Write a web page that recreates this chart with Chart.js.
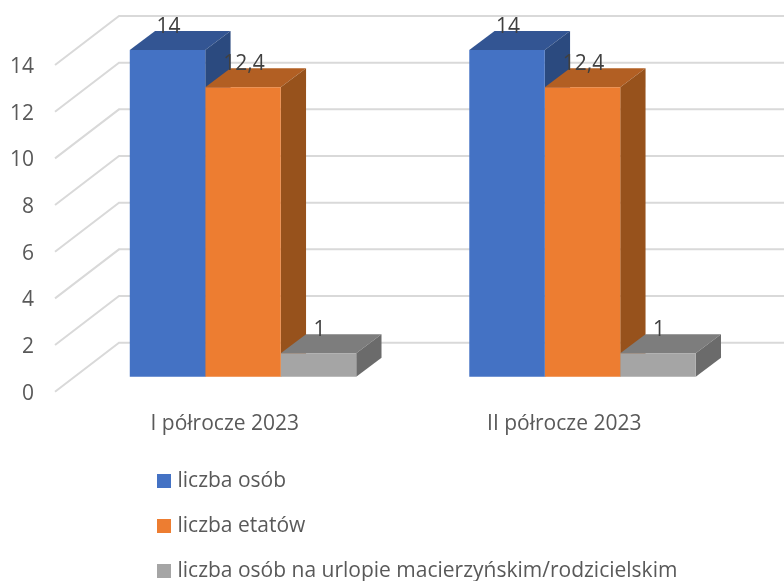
<!DOCTYPE html>
<html>
<head>
<meta charset="utf-8">
<script src="https://cdn.jsdelivr.net/npm/chart.js@4/dist/chart.umd.min.js"></script>
<style>
  html, body { margin: 0; padding: 0; background: #fff; }
  canvas { display: block; }
</style>
</head>
<body>
<canvas id="chart" width="784" height="581"></canvas>
<script>
const categories = ["I półrocze 2023", "II półrocze 2023"];
const seriesNames = ["liczba osób", "liczba etatów", "liczba osób na urlopie macierzyńskim/rodzicielskim"];
const liczbaOsob = [14, 14];
const liczbaEtatow = [12.4, 12.4];
const liczbaUrlop = [1, 1];

const frontColors = ["#4472C4", "#ED7D31", "#A5A5A5"];
const topColors = ["#335593", "#B25F23", "#7D7D7D"];
const sideColors = ["#2B4A7F", "#97521C", "#6B6B6B"];

const fontName = "'Open Sans', sans-serif";
const fontSize = 21;

// fake 3D: plot area is the front plane, bars sit a bit behind it
const wall = { dx: 64, dy: -49 };
const barShift = { dx: 18.25, dy: -15 };
const barDepth = { dx: 25.3, dy: -19 };

const fake3d = {
    id: "fake3d",
    afterLayout(chart) {
        // stacked legend under the plot, bottom goes past the canvas so it doesn't wrap
        const legend = chart.legend;
        legend.left = 137;
        legend.top = 446.5;
        legend.right = 784;
        legend.bottom = 660;
        legend.width = 647;
        legend.height = 213.5;
    },
    beforeDatasetsDraw(chart) {
        const ctx = chart.ctx;
        const y = chart.scales.y;

        ctx.save();
        ctx.strokeStyle = "#D9D9D9";
        ctx.lineWidth = 2;
        y.ticks.forEach((tick) => {
            const py = y.getPixelForValue(tick.value);
            ctx.beginPath();
            ctx.moveTo(chart.chartArea.left, py);
            ctx.lineTo(chart.chartArea.left + wall.dx, py + wall.dy);
            ctx.lineTo(chart.width, py + wall.dy);
            ctx.stroke();
        });
        ctx.restore();

        ctx.save();
        ctx.translate(barShift.dx, barShift.dy);
        chart.data.datasets.forEach((ds, i) => {
            chart.getDatasetMeta(i).data.forEach((bar) => {
                const left = bar.x - bar.width / 2;
                const right = bar.x + bar.width / 2;
                // top face
                ctx.fillStyle = topColors[i];
                ctx.beginPath();
                ctx.moveTo(left, bar.y);
                ctx.lineTo(right, bar.y);
                ctx.lineTo(right + barDepth.dx, bar.y + barDepth.dy);
                ctx.lineTo(left + barDepth.dx, bar.y + barDepth.dy);
                ctx.closePath();
                ctx.fill();
                // side face
                ctx.fillStyle = sideColors[i];
                ctx.beginPath();
                ctx.moveTo(right, bar.y);
                ctx.lineTo(right + barDepth.dx, bar.y + barDepth.dy);
                ctx.lineTo(right + barDepth.dx, bar.base + barDepth.dy);
                ctx.lineTo(right, bar.base);
                ctx.closePath();
                ctx.fill();
            });
        });
    },
    afterDatasetsDraw(chart) {
        const ctx = chart.ctx;
        ctx.fillStyle = "#404040";
        ctx.font = fontSize + "px " + fontName;
        ctx.textAlign = "center";
        ctx.textBaseline = "middle";
        chart.data.datasets.forEach((ds, i) => {
            chart.getDatasetMeta(i).data.forEach((bar, j) => {
                ctx.fillText(String(ds.data[j]).replace(".", ","), bar.x + 1, bar.y - 23);
            });
        });
        ctx.restore();
    }
};

new Chart(document.getElementById("chart"), {
    type: "bar",
    data: {
        labels: categories,
        datasets: [
            { label: seriesNames[0], data: liczbaOsob, backgroundColor: frontColors[0] },
            { label: seriesNames[1], data: liczbaEtatow, backgroundColor: frontColors[1] },
            { label: seriesNames[2], data: liczbaUrlop, backgroundColor: frontColors[2] }
        ]
    },
    plugins: [fake3d],
    options: {
        responsive: false,
        animation: false,
        clip: false,
        layout: { padding: { top: 65, right: 50, bottom: 0, left: 0 } },
        datasets: { bar: { barPercentage: 1, categoryPercentage: 0.667 } },
        scales: {
            x: {
                grid: { display: false },
                border: { display: false },
                ticks: { color: "#595959", font: { family: fontName, size: fontSize }, padding: 12, maxRotation: 0 },
                afterFit(scale) { scale.height = 189.3; }
            },
            y: {
                min: 0,
                max: 14,
                grid: { display: false, drawTicks: false },
                border: { display: false },
                ticks: { stepSize: 2, color: "#595959", font: { family: fontName, size: fontSize }, padding: 21, labelOffset: 2 },
                afterFit(scale) { scale.width = 55; }
            }
        },
        plugins: {
            tooltip: { enabled: false },
            legend: {
                position: "chartArea",
                align: "start",
                labels: {
                    color: "#595959",
                    font: { family: fontName, size: fontSize },
                    padding: 24,
                    // boxes come out 14px wide with the thick stroke
                    boxWidth: 6,
                    boxHeight: 6,
                    generateLabels(chart) {
                        return Chart.defaults.plugins.legend.labels.generateLabels(chart).map((item, i) => {
                            item.strokeStyle = frontColors[i];
                            item.lineWidth = 8;
                            return item;
                        });
                    }
                }
            }
        }
    }
});
</script>
</body>
</html>
